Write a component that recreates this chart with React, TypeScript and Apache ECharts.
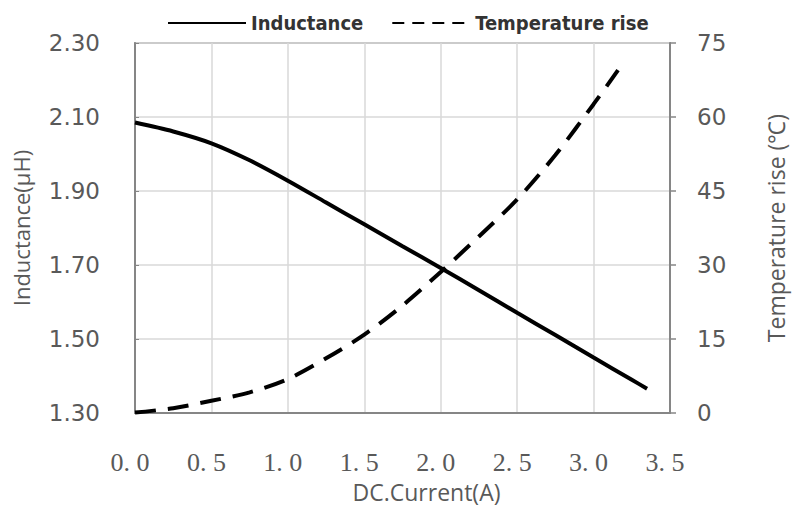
import React, { useEffect, useRef } from "react";
import * as echarts from "echarts";

const currentInd: number[] = [0, 0.25, 0.5, 0.75, 1.0, 1.25, 1.5, 1.75, 2.0, 2.25, 2.5, 2.75, 3.0, 3.25, 3.35];
const inductance: number[] = [2.085, 2.061, 2.029, 1.983, 1.928, 1.869, 1.81, 1.751, 1.692, 1.632, 1.571, 1.511, 1.45, 1.39, 1.366];
const currentTemp: number[] = [0, 0.25, 0.5, 0.75, 1.0, 1.25, 1.5, 1.75, 2.0, 2.25, 2.5, 2.75, 3.0, 3.16];
const tempRise: number[] = [0.1, 1.0, 2.5, 4.2, 6.9, 11.1, 15.9, 21.8, 28.6, 35.8, 43.3, 52.3, 62.6, 69.5];

const seriesNames: string[] = ["Inductance", "Temperature rise"];
const xAxisName = "DC.Current(A)";
const yLeftName = "Inductance(μH)";
const yRightName = "Temperature rise (℃)";

export default function App() {
  const ref = useRef<HTMLDivElement>(null);
  useEffect(() => {
    if (!ref.current) return;
    const chart = echarts.init(ref.current, undefined, { renderer: "svg" });
    const labelColor = "#595959";
    const axisGray = "#868686";
    chart.setOption({
      animation: false,
      backgroundColor: "#ffffff",
      grid: {
        left: 135,
        top: 43,
        width: 542,
        height: 375,
        show: true,
        borderColor: axisGray,
        borderWidth: 1.5,
      },
      legend: {
        top: 8,
        left: 162,
        itemWidth: 78,
        itemHeight: 14,
        itemGap: 28,
        itemStyle: { opacity: 0 },
        textStyle: {
          fontFamily: "DejaVu Sans Condensed, DejaVu Sans",
          fontWeight: "bold",
          fontSize: 20,
          color: "#333333",
        },
        data: [
          { name: seriesNames[0] },
          { name: seriesNames[1], lineStyle: { type: [12, 8] } },
        ],
      },
      xAxis: {
        type: "value",
        min: 0,
        max: 3.5,
        interval: 0.5,
        name: xAxisName,
        nameLocation: "middle",
        nameGap: 64,
        nameTextStyle: {
          fontFamily: "Open Sans",
          fontSize: 23,
          color: labelColor,
          padding: [0, 0, 0, 48],
        },
        axisLine: { show: true, lineStyle: { color: axisGray, width: 2 } },
        axisTick: { show: false },
        splitLine: { show: true, lineStyle: { color: "#d9d9d9", width: 1.5 } },
        axisLabel: {
          margin: 36,
          fontFamily: "Liberation Serif",
          fontSize: 26,
          color: labelColor,
          padding: [0, 10, 0, 0],
          formatter: (v: number) => v.toFixed(1).replace(".", ". "),
        },
      },
      yAxis: [
        {
          type: "value",
          min: 1.3,
          max: 2.3,
          interval: 0.2,
          name: yLeftName,
          nameLocation: "middle",
          nameRotate: 90,
          nameGap: 103,
          nameTextStyle: { fontFamily: "Open Sans", fontSize: 22, color: labelColor },
          axisLine: { show: true, lineStyle: { color: axisGray, width: 2 } },
          axisTick: { show: true, inside: true, length: 4, lineStyle: { color: axisGray } },
          splitLine: { show: true, lineStyle: { color: "#d9d9d9", width: 1.5 } },
          axisLabel: {
            margin: 35,
            fontFamily: "DejaVu Sans",
            fontSize: 23,
            color: labelColor,
            formatter: (v: number) => v.toFixed(2),
          },
        },
        {
          type: "value",
          min: 0,
          max: 75,
          interval: 15,
          name: yRightName,
          nameLocation: "middle",
          nameRotate: 90,
          nameGap: 94,
          nameTextStyle: { fontFamily: "Open Sans", fontSize: 23, color: labelColor },
          axisLine: { show: true, lineStyle: { color: axisGray, width: 2 } },
          axisTick: { show: true, inside: false, length: 6, lineStyle: { color: axisGray, width: 1.5 } },
          splitLine: { show: false },
          axisLabel: {
            margin: 27,
            fontFamily: "DejaVu Sans",
            fontSize: 23,
            color: labelColor,
          },
        },
      ],
      series: [
        {
          name: seriesNames[0],
          type: "line",
          yAxisIndex: 0,
          smooth: 0.3,
          symbol: "none",
          lineStyle: { color: "#000000", width: 4 },
          itemStyle: { color: "#000000" },
          data: currentInd.map((x, i) => [x, inductance[i]]),
        },
        {
          name: seriesNames[1],
          type: "line",
          yAxisIndex: 1,
          smooth: 0.3,
          symbol: "none",
          lineStyle: { color: "#000000", width: 4, type: [21, 12] },
          itemStyle: { color: "#000000" },
          data: currentTemp.map((x, i) => [x, tempRise[i]]),
        },
      ],
    });
    return () => chart.dispose();
  }, []);
  return (
    <div
      ref={ref}
      style={{ position: "fixed", left: 0, top: 0, width: 795, height: 508, background: "#fff" }}
    />
  );
}
